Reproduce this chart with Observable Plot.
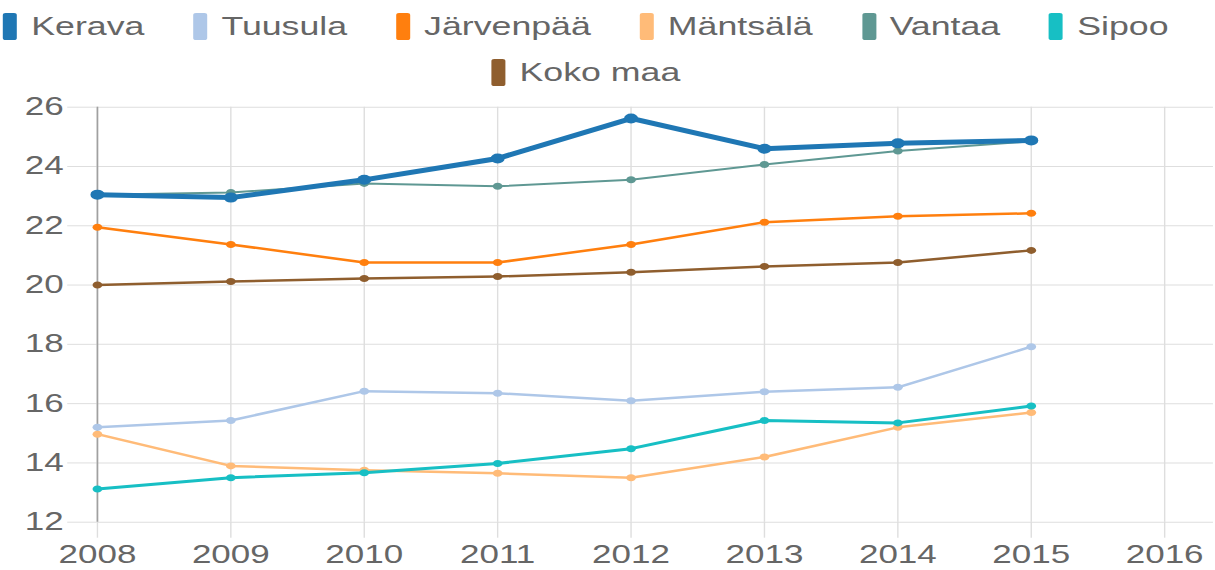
<!DOCTYPE html>
<html>
<head>
<meta charset="utf-8">
<script src="https://cdn.jsdelivr.net/npm/d3@7"></script>
<script src="https://cdn.jsdelivr.net/npm/@observablehq/plot@0.6"></script>
<style>
  html, body { margin: 0; padding: 0; background: #fff; overflow: hidden; }
  #wrap { width: 868px; transform: scaleX(1.4); transform-origin: 0 0; font-family: "Liberation Sans", Arial, sans-serif; }
  #legend { width: 837px; height: 96px; padding-top: 3px; box-sizing: border-box; }
  .row { display: flex; justify-content: center; align-items: center; height: 46px; }
  .item { display: flex; align-items: center; margin: 0 17.5px; }
  .sw { width: 10px; height: 27px; border-radius: 2px; margin-right: 10px; }
  .lab { font-size: 25.5px; color: #666; white-space: nowrap; }
</style>
</head>
<body>
<div id="wrap">
  <div id="legend"></div>
  <div id="chart"></div>
</div>
<script>
const years = [2008, 2009, 2010, 2011, 2012, 2013, 2014, 2015];
const xTicks = [2008, 2009, 2010, 2011, 2012, 2013, 2014, 2015, 2016];
const yTicks = [12, 14, 16, 18, 20, 22, 24, 26];

const seriesNames = ["Kerava", "Tuusula", "Järvenpää", "Mäntsälä", "Vantaa", "Sipoo", "Koko maa"];
const seriesColors = ["#1f77b4", "#aec7e8", "#ff7f0e", "#ffbb78", "#5f9893", "#17bfc4", "#8f5e2e"];

const kerava    = [23.05, 22.95, 23.55, 24.27, 25.62, 24.6, 24.78, 24.88];
const tuusula   = [15.2, 15.43, 16.42, 16.35, 16.1, 16.4, 16.55, 17.92];
const jarvenpaa = [21.95, 21.37, 20.76, 20.76, 21.37, 22.12, 22.32, 22.42];
const mantsala  = [14.97, 13.9, 13.75, 13.65, 13.5, 14.2, 15.2, 15.7];
const vantaa    = [23.05, 23.12, 23.43, 23.33, 23.55, 24.07, 24.52, 24.85];
const sipoo     = [13.12, 13.5, 13.67, 13.98, 14.48, 15.43, 15.35, 15.92];
const kokoMaa   = [20.0, 20.12, 20.22, 20.29, 20.43, 20.63, 20.76, 21.17];

const seriesValues = [kerava, tuusula, jarvenpaa, mantsala, vantaa, sipoo, kokoMaa];
const strokeWidths = [5, 2.5, 2.5, 2.5, 2, 3, 2.5];
const dotRadii = [5, 3.5, 3.5, 3.5, 3.5, 3.5, 3.5];
const drawOrder = ["Koko maa", "Mäntsälä", "Tuusula", "Järvenpää", "Sipoo", "Vantaa", "Kerava"];

// Legend
const legend = document.getElementById("legend");
const rows = [seriesNames.slice(0, 6), seriesNames.slice(6)];
rows.forEach(names => {
  const row = document.createElement("div");
  row.className = "row";
  names.forEach(name => {
    const i = seriesNames.indexOf(name);
    const item = document.createElement("div");
    item.className = "item";
    const sw = document.createElement("div");
    sw.className = "sw";
    sw.style.background = seriesColors[i];
    const lab = document.createElement("span");
    lab.className = "lab";
    lab.textContent = name;
    item.appendChild(sw);
    item.appendChild(lab);
    row.appendChild(item);
  });
  legend.appendChild(row);
});

// Chart
const lineMarks = [];
drawOrder.forEach(name => {
  const i = seriesNames.indexOf(name);
  const rowsData = years.map((yr, j) => ({year: yr, value: seriesValues[i][j], series: name}));
  lineMarks.push(Plot.line(rowsData, {x: "year", y: "value", stroke: seriesColors[i], strokeWidth: strokeWidths[i], strokeLinejoin: "round", strokeLinecap: "round"}));
  lineMarks.push(Plot.dot(rowsData, {x: "year", y: "value", fill: seriesColors[i], r: dotRadii[i]}));
});

const chart = Plot.plot({
  width: 868,
  height: 474,
  marginLeft: 69,
  marginRight: 1.6,
  marginTop: 10.7,
  marginBottom: 48.3,
  style: {fontSize: "25px", fontFamily: "'Liberation Sans', Arial, sans-serif", color: "#666", background: "transparent", overflow: "visible"},
  x: {type: "linear", domain: [2008, 2016], range: [69.1, 831.4], label: null},
  y: {domain: [12, 26], label: null},
  marks: [
    Plot.gridY(yTicks, {stroke: "#dedede", strokeOpacity: 1}),
    Plot.gridX(xTicks, {stroke: "#dedede", strokeOpacity: 1}),
    Plot.axisY(yTicks, {tickSize: 21, tickPadding: 3, stroke: "#dedede", fill: "#666", label: null, tickFormat: d => String(d)}),
    Plot.axisX(xTicks, {tickSize: 16, tickPadding: 7, stroke: "#dedede", fill: "#666", label: null, tickFormat: d => String(d)}),
    Plot.ruleX([2008], {stroke: "#a0a0a0", strokeWidth: 1.2}),
    ...lineMarks
  ]
});
document.getElementById("chart").appendChild(chart);
</script>
</body>
</html>
